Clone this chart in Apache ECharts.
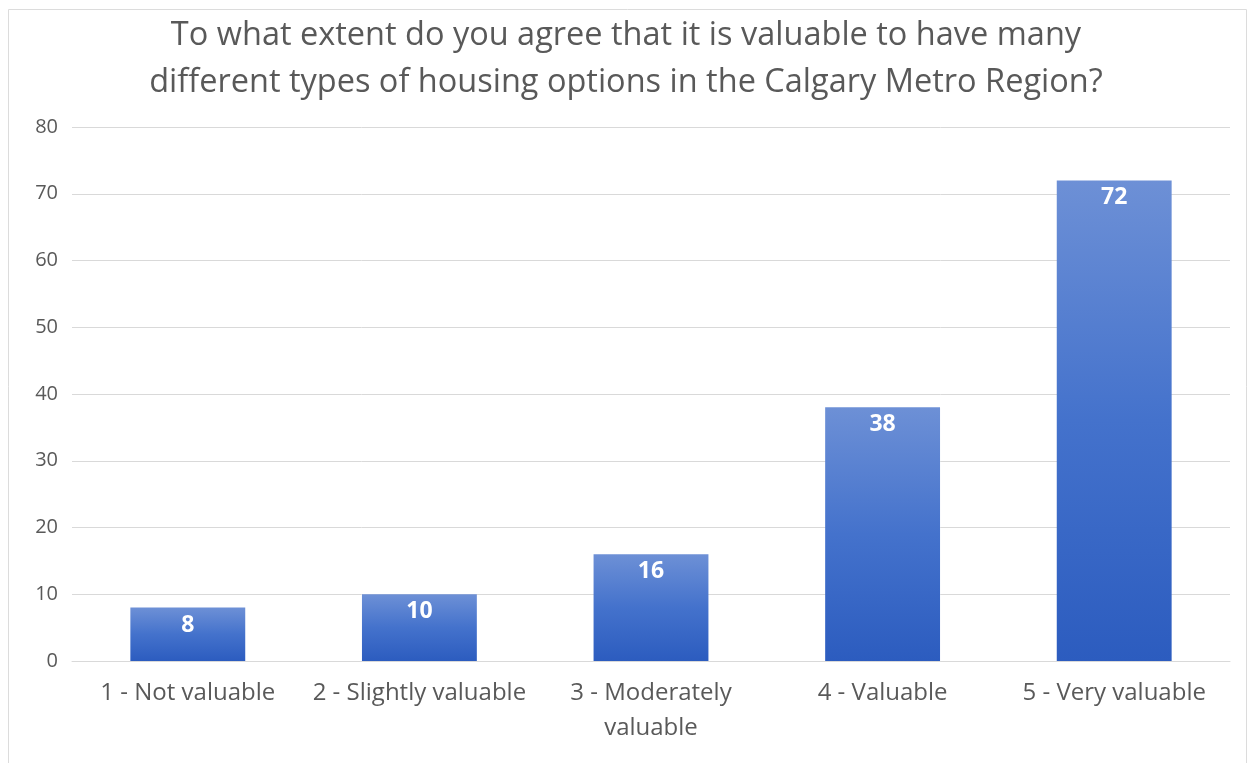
<!DOCTYPE html>
<html>
<head>
<meta charset="utf-8">
<script src="https://cdn.jsdelivr.net/npm/echarts@6/dist/echarts.min.js"></script>
<style>
  html, body { margin: 0; padding: 0; background: #ffffff; }
  #chart { width: 1252px; height: 763px; }
</style>
</head>
<body>
<div id="chart"></div>
<script>
// Survey responses
const titleLines = [
  'To what extent do you agree that it is valuable to have many',
  'different types of housing options in the Calgary Metro Region?'
];
const categories = [
  '1 - Not valuable',
  '2 - Slightly valuable',
  '3 - Moderately\nvaluable',
  '4 - Valuable',
  '5 - Very valuable'
];
const responses = [8, 10, 16, 38, 72];
const yTicks = { min: 0, max: 80, interval: 10 };

const chart = echarts.init(document.getElementById('chart'), null, { renderer: 'canvas' });

const barFill = new echarts.graphic.LinearGradient(0, 0, 0, 1, [
  { offset: 0, color: '#6d90d6' },
  { offset: 0.5, color: '#4472cc' },
  { offset: 1, color: '#2c5cbf' }
]);

chart.setOption({
  backgroundColor: '#ffffff',
  animation: false,
  graphic: [{
    type: 'rect',
    shape: { x: 8.5, y: 9.5, width: 1238, height: 770 },
    style: { fill: 'none', stroke: '#dcdcdc', lineWidth: 1 },
    silent: true,
    z: -10
  }],
  title: {
    text: titleLines.join('\n'),
    left: 'center',
    top: 7,
    textStyle: {
      fontFamily: "'Open Sans', sans-serif",
      fontSize: 32.5,
      fontWeight: 'normal',
      color: '#595959',
      lineHeight: 47
    }
  },
  grid: { left: 72, right: 22, top: 127, bottom: 102, containLabel: false },
  xAxis: {
    type: 'category',
    data: categories,
    axisTick: { show: false },
    axisLine: { lineStyle: { color: '#d9d9d9', width: 1 } },
    axisLabel: {
      color: '#595959',
      fontFamily: "'Open Sans', sans-serif",
      fontSize: 24,
      lineHeight: 35,
      margin: 15,
      interval: 0
    }
  },
  yAxis: {
    type: 'value',
    min: yTicks.min,
    max: yTicks.max,
    interval: yTicks.interval,
    axisLine: { show: false },
    axisTick: { show: false },
    splitLine: { lineStyle: { color: '#d9d9d9', width: 1 } },
    axisLabel: {
      color: '#595959',
      fontFamily: "'Open Sans', sans-serif",
      fontSize: 20,
      margin: 14
    }
  },
  series: [{
    type: 'bar',
    data: responses,
    barWidth: '49.6%',
    itemStyle: { color: barFill },
    label: {
      show: true,
      position: 'insideTop',
      distance: 6,
      color: '#ffffff',
      fontFamily: "'Open Sans', sans-serif",
      fontWeight: 'bold',
      fontSize: 23
    }
  }]
});
</script>
</body>
</html>
